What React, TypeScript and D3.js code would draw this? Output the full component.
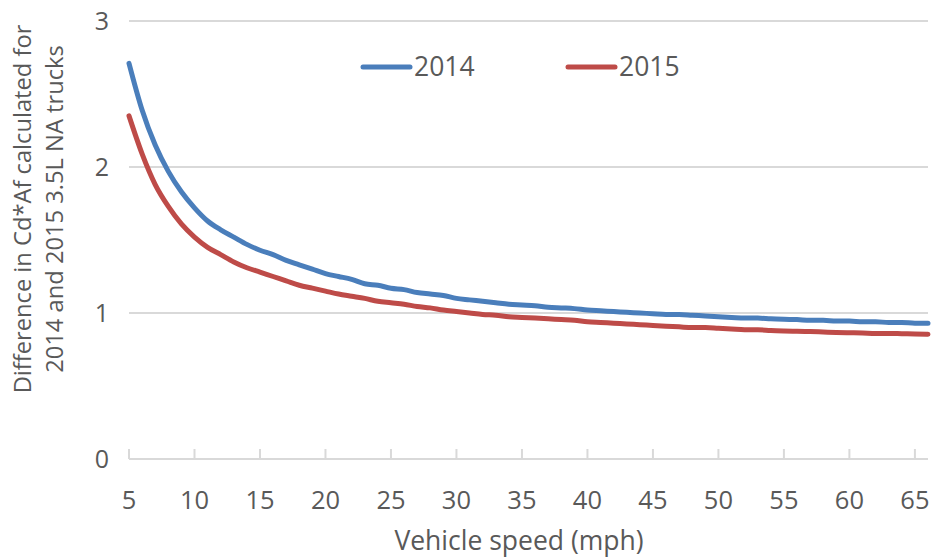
import React from "react";
import * as d3 from "d3";

const speeds: number[] = d3.range(5, 67);

const values2014: number[] = [
  2.71, 2.39, 2.15, 1.97, 1.83, 1.72, 1.63, 1.57, 1.52, 1.47,
  1.43, 1.40, 1.36, 1.33, 1.30, 1.27, 1.25, 1.23, 1.20, 1.19,
  1.17, 1.16, 1.14, 1.13, 1.12, 1.10, 1.09, 1.08, 1.07, 1.06,
  1.055, 1.05, 1.04, 1.035, 1.03, 1.02, 1.015, 1.01, 1.005, 1.0,
  0.995, 0.99, 0.99, 0.985, 0.98, 0.975, 0.97, 0.965, 0.965, 0.96,
  0.957, 0.955, 0.95, 0.95, 0.945, 0.945, 0.94, 0.94, 0.935, 0.935,
  0.93, 0.93,
];

const values2015: number[] = [
  2.35, 2.09, 1.88, 1.73, 1.61, 1.52, 1.45, 1.40, 1.35, 1.31,
  1.28, 1.25, 1.22, 1.19, 1.17, 1.15, 1.13, 1.115, 1.10, 1.08,
  1.07, 1.06, 1.045, 1.035, 1.02, 1.01, 1.0, 0.99, 0.985, 0.975,
  0.97, 0.965, 0.96, 0.955, 0.95, 0.94, 0.935, 0.93, 0.925, 0.92,
  0.915, 0.91, 0.905, 0.9, 0.9, 0.895, 0.89, 0.885, 0.885, 0.88,
  0.877, 0.875, 0.873, 0.87, 0.867, 0.865, 0.863, 0.86, 0.86, 0.858,
  0.856, 0.855,
];

const xTicks: number[] = [5, 10, 15, 20, 25, 30, 35, 40, 45, 50, 55, 60, 65];
const yTicks: number[] = [0, 1, 2, 3];

const seriesNames: string[] = ["2014", "2015"];
const seriesColors: string[] = ["#4A7EBB", "#BE4B48"];

const FONT = "'Segoe UI', 'Open Sans', 'Noto Sans', sans-serif";
const TEXT = "#595959";

export default function App() {
  const W = 932;
  const H = 559;
  const left = 129;
  const right = 928;
  const top = 21;
  const bottom = 459;

  const x = d3.scaleLinear().domain([5, 66]).range([left, right]);
  const y = d3.scaleLinear().domain([0, 3]).range([bottom, top]);

  const line = d3
    .line<number>()
    .x((_, i) => x(speeds[i]))
    .y((d) => y(d))
    .curve(d3.curveMonotoneX);

  const series = [values2014, values2015];

  return (
    <svg
      width={W}
      height={H}
      style={{ position: "absolute", left: 0, top: 0, background: "#fff" }}
      fontFamily={FONT}
    >
      {yTicks.map((t) => (
        <g key={t}>
          <line x1={left} x2={right} y1={y(t)} y2={y(t)} stroke="#D9D9D9" strokeWidth={2} />
          <text x={109} y={y(t)} dy="0.35em" textAnchor="end" fontSize={25} fill={TEXT}>
            {t}
          </text>
        </g>
      ))}
      {xTicks.map((t) => (
        <g key={t}>
          <line x1={x(t)} x2={x(t)} y1={bottom - 10} y2={bottom} stroke="#D9D9D9" strokeWidth={2} />
          <text x={x(t)} y={509} textAnchor="middle" fontSize={25.5} fill={TEXT}>
            {t}
          </text>
        </g>
      ))}
      {series.map((s, i) => (
        <path
          key={i}
          d={line(s) || ""}
          fill="none"
          stroke={seriesColors[i]}
          strokeWidth={5}
          strokeLinejoin="round"
          strokeLinecap="round"
        />
      ))}
      {seriesNames.map((n, i) => {
        const lx = i === 0 ? 363 : 568;
        return (
          <g key={n}>
            <line x1={lx} x2={lx + 47} y1={67} y2={67} stroke={seriesColors[i]} strokeWidth={5} strokeLinecap="round" />
            <text x={lx + 51} y={67} dy="0.35em" fontSize={26.5} fill={TEXT}>
              {n}
            </text>
          </g>
        );
      })}
      <text x={519} y={550} textAnchor="middle" fontSize={26.5} fill={TEXT}>
        Vehicle speed (mph)
      </text>
      <g transform="translate(0,209) rotate(-90)">
        <text x={0} y={31} textAnchor="middle" fontSize={23.7} fill={TEXT}>
          Difference in Cd*Af calculated for
        </text>
        <text x={0} y={63} textAnchor="middle" fontSize={23.7} fill={TEXT}>
          2014 and 2015 3.5L NA trucks
        </text>
      </g>
    </svg>
  );
}
